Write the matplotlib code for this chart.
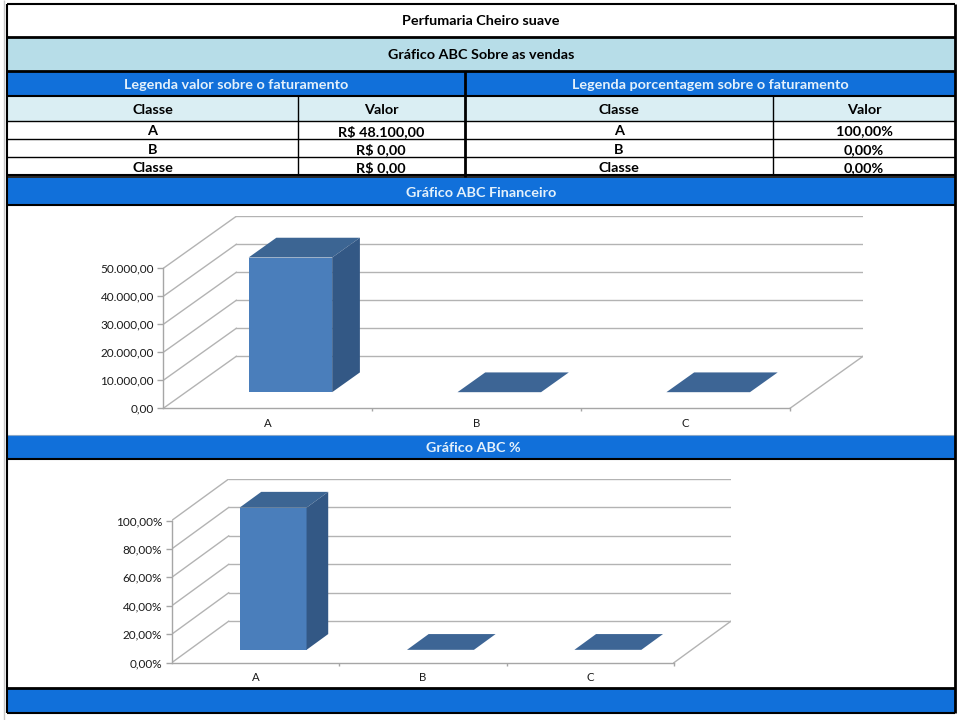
import matplotlib
matplotlib.use("Agg")
import matplotlib.pyplot as plt
from matplotlib.patches import Rectangle, Polygon
from matplotlib.ticker import FuncFormatter, FixedLocator

# ---------------- data ----------------
categorias = ["A", "B", "C"]
valores = [48100.0, 0.0, 0.0]          # R$
percentuais = [100.0, 0.0, 0.0]        # %
classes_tabela = ["A", "B", "Classe"]
ticks_valor = [0, 10000, 20000, 30000, 40000, 50000]
ticks_pct = [0, 20, 40, 60, 80, 100]

titulo = "Perfumaria Cheiro suave"
subtitulo = "Gráfico ABC Sobre as vendas"
leg_valor = "Legenda valor sobre o faturamento"
leg_pct = "Legenda porcentagem sobre o faturamento"
titulo_g1 = "Gráfico ABC Financeiro"
titulo_g2 = "Gráfico ABC %"


def br(v, dec=2):
    s = f"{v:,.{dec}f}"
    return s.replace(",", "X").replace(".", ",").replace("X", ".")


# ---------------- style ----------------
BLUE = "#1170da"
LIGHT = "#b7dde8"
LIGHTER = "#daeef3"
HTEXT = "#e4f1fb"
FRONT = "#4a7ebb"
TOP = "#3c6593"
SIDE = "#335885"
FLAT = "#3d6595"
GRID = "#b3b3b3"
AXC = "#a6a6a6"
FONT = "Lato"

fig = plt.figure(figsize=(9.6, 7.2), dpi=100)
bg = fig.add_axes([0, 0, 1, 1])
bg.set_xlim(0, 960)
bg.set_ylim(720, 0)
bg.axis("off")


def box(x0, y0, x1, y1, color):
    bg.add_patch(Rectangle((x0, y0), x1 - x0, y1 - y0, facecolor=color, edgecolor="none", zorder=1))


def hline(y, x0=7, x1=955, lw=1.5, color="black"):
    bg.plot([x0, x1], [y, y], color=color, lw=lw, zorder=3, solid_capstyle="butt")


def vline(x, y0, y1, lw=1.0, color="black"):
    bg.plot([x, x], [y0, y1], color=color, lw=lw, zorder=3, solid_capstyle="butt")


def txt(x, y, s, color="black", size=10.4):
    bg.text(x, y + 1.2, s, ha="center", va="center", fontsize=size, fontweight="bold",
            family=FONT, color=color, zorder=4)


L, R = 7, 955
# spreadsheet edge
vline(3.5, 0, 720, lw=1, color="#c8c8c8")

box(L, 3.5, R, 36.5, "white")
box(L, 37, R, 71, LIGHT)
box(L, 71.5, R, 96, BLUE)
box(L, 96, R, 120.5, LIGHTER)
box(L, 177.5, R, 205, BLUE)
box(L, 435, R, 458.5, BLUE)
box(L, 688, R, 712.5, BLUE)

hline(3.5, lw=1.5)
hline(36.5, lw=2)
hline(71, lw=2)
hline(96, lw=1.5)
hline(120.5, lw=1)
hline(139, lw=1)
hline(157, lw=1)
hline(174.5, lw=1.5)
hline(177.3, lw=1.2)
hline(205, lw=1.5)
hline(435, lw=0.8, color="#8aa8c8")
hline(458.5, lw=1.5)
hline(687.5, lw=2)
hline(713, lw=1.5)
vline(L, 3.5, 713, lw=1.5)
vline(R, 3.5, 713, lw=2)
vline(465, 71, 177, lw=2)
vline(298, 96, 175, lw=1)
vline(773, 96, 175, lw=1)

txt(481, 19.5, titulo)
txt(481, 54, subtitulo)
txt(236, 84, leg_valor, color=HTEXT)
txt(710, 84, leg_pct, color=HTEXT)
txt(152.5, 108.5, "Classe")
txt(381, 108.5, "Valor")
txt(619, 108.5, "Classe")
txt(864, 108.5, "Valor")
row_y = [130, 148.5, 166.5]
for i in range(3):
    txt(152.5, row_y[i], classes_tabela[i])
    txt(381, row_y[i], "R$ " + br(valores[i]))
    txt(619, row_y[i], classes_tabela[i])
    txt(864, row_y[i], br(percentuais[i]) + "%")
txt(481, 192, titulo_g1, color=HTEXT)
txt(473, 447, titulo_g2, color=HTEXT)


# ---------------- pseudo-3D bar charts ----------------
def chart(left_px, y0_px, cat_px, val_px, dx_px, dy_px, vals, ticks, fmt):
    vmax = ticks[-1]
    DX = dx_px / cat_px
    DY = dy_px / val_px
    n = len(vals)
    w_px = n * cat_px + dx_px
    h_px = vmax * val_px + dy_px
    ax = fig.add_axes([left_px / 960, (720 - y0_px) / 720, w_px / 960, h_px / 720])
    ax.set_xlim(0, n + DX)
    ax.set_ylim(0, vmax + DY)
    ax.patch.set_alpha(0)
    for sp in ("top", "right"):
        ax.spines[sp].set_visible(False)
    ax.spines["left"].set_bounds(0, vmax)
    ax.spines["bottom"].set_bounds(0, n)
    for sp in ("left", "bottom"):
        ax.spines[sp].set_color(AXC)
        ax.spines[sp].set_linewidth(1.0)

    # walls / floor
    for v in ticks:
        ax.plot([0, DX], [v, v + DY], color=GRID, lw=1.0, zorder=1)
        ax.plot([DX, n + DX], [v + DY, v + DY], color=GRID, lw=1.0, zorder=1)
    ax.plot([n, n + DX], [0, DY], color=GRID, lw=1.0, zorder=1)

    x0f, x1f, z0, z1 = 0.30, 0.70, 0.31, 0.69
    for i, v in enumerate(vals):
        xa, xb = i + x0f, i + x1f
        if v > 0:
            ax.add_patch(Polygon([(xa + z0 * DX, z0 * DY), (xb + z0 * DX, z0 * DY),
                                  (xb + z0 * DX, v + z0 * DY), (xa + z0 * DX, v + z0 * DY)],
                                 closed=True, facecolor=FRONT, edgecolor="none", zorder=3))
            ax.add_patch(Polygon([(xa + z0 * DX, v + z0 * DY), (xb + z0 * DX, v + z0 * DY),
                                  (xb + z1 * DX, v + z1 * DY), (xa + z1 * DX, v + z1 * DY)],
                                 closed=True, facecolor=TOP, edgecolor="none", zorder=3))
            ax.add_patch(Polygon([(xb + z0 * DX, z0 * DY), (xb + z1 * DX, z1 * DY),
                                  (xb + z1 * DX, v + z1 * DY), (xb + z0 * DX, v + z0 * DY)],
                                 closed=True, facecolor=SIDE, edgecolor="none", zorder=3))
        else:
            ax.add_patch(Polygon([(xa + z0 * DX, z0 * DY), (xb + z0 * DX, z0 * DY),
                                  (xb + z1 * DX, z1 * DY), (xa + z1 * DX, z1 * DY)],
                                 closed=True, facecolor=FLAT, edgecolor="none", zorder=3))

    ax.yaxis.set_major_locator(FixedLocator(ticks))
    ax.yaxis.set_major_formatter(FuncFormatter(lambda v, p: fmt(v)))
    ax.tick_params(axis="y", direction="out", length=4.3, width=1, color=AXC,
                   pad=2.5, labelsize=8.5, labelcolor="#1a1a1a")
    ax.set_xticks([i + 0.5 for i in range(n)])
    ax.set_xticklabels(categorias, fontsize=8.2, color="#1a1a1a", family=FONT)
    ax.set_xticks(list(range(1, n + 1)), minor=True)
    ax.tick_params(axis="x", which="major", length=0, pad=7)
    ax.tick_params(axis="x", which="minor", direction="out", length=2.5, width=1, color=AXC)
    for lab in ax.get_yticklabels():
        lab.set_family(FONT)
    return ax


chart(163.3, 408.3, 208.9, 140.0 / 50000, 73, 52, valores, ticks_valor, lambda v: br(v))
chart(171.7, 662.7, 167.4, 142.2 / 100, 57, 41.5, percentuais, ticks_pct, lambda v: br(v) + "%")

fig.savefig("out.png", dpi=100)
